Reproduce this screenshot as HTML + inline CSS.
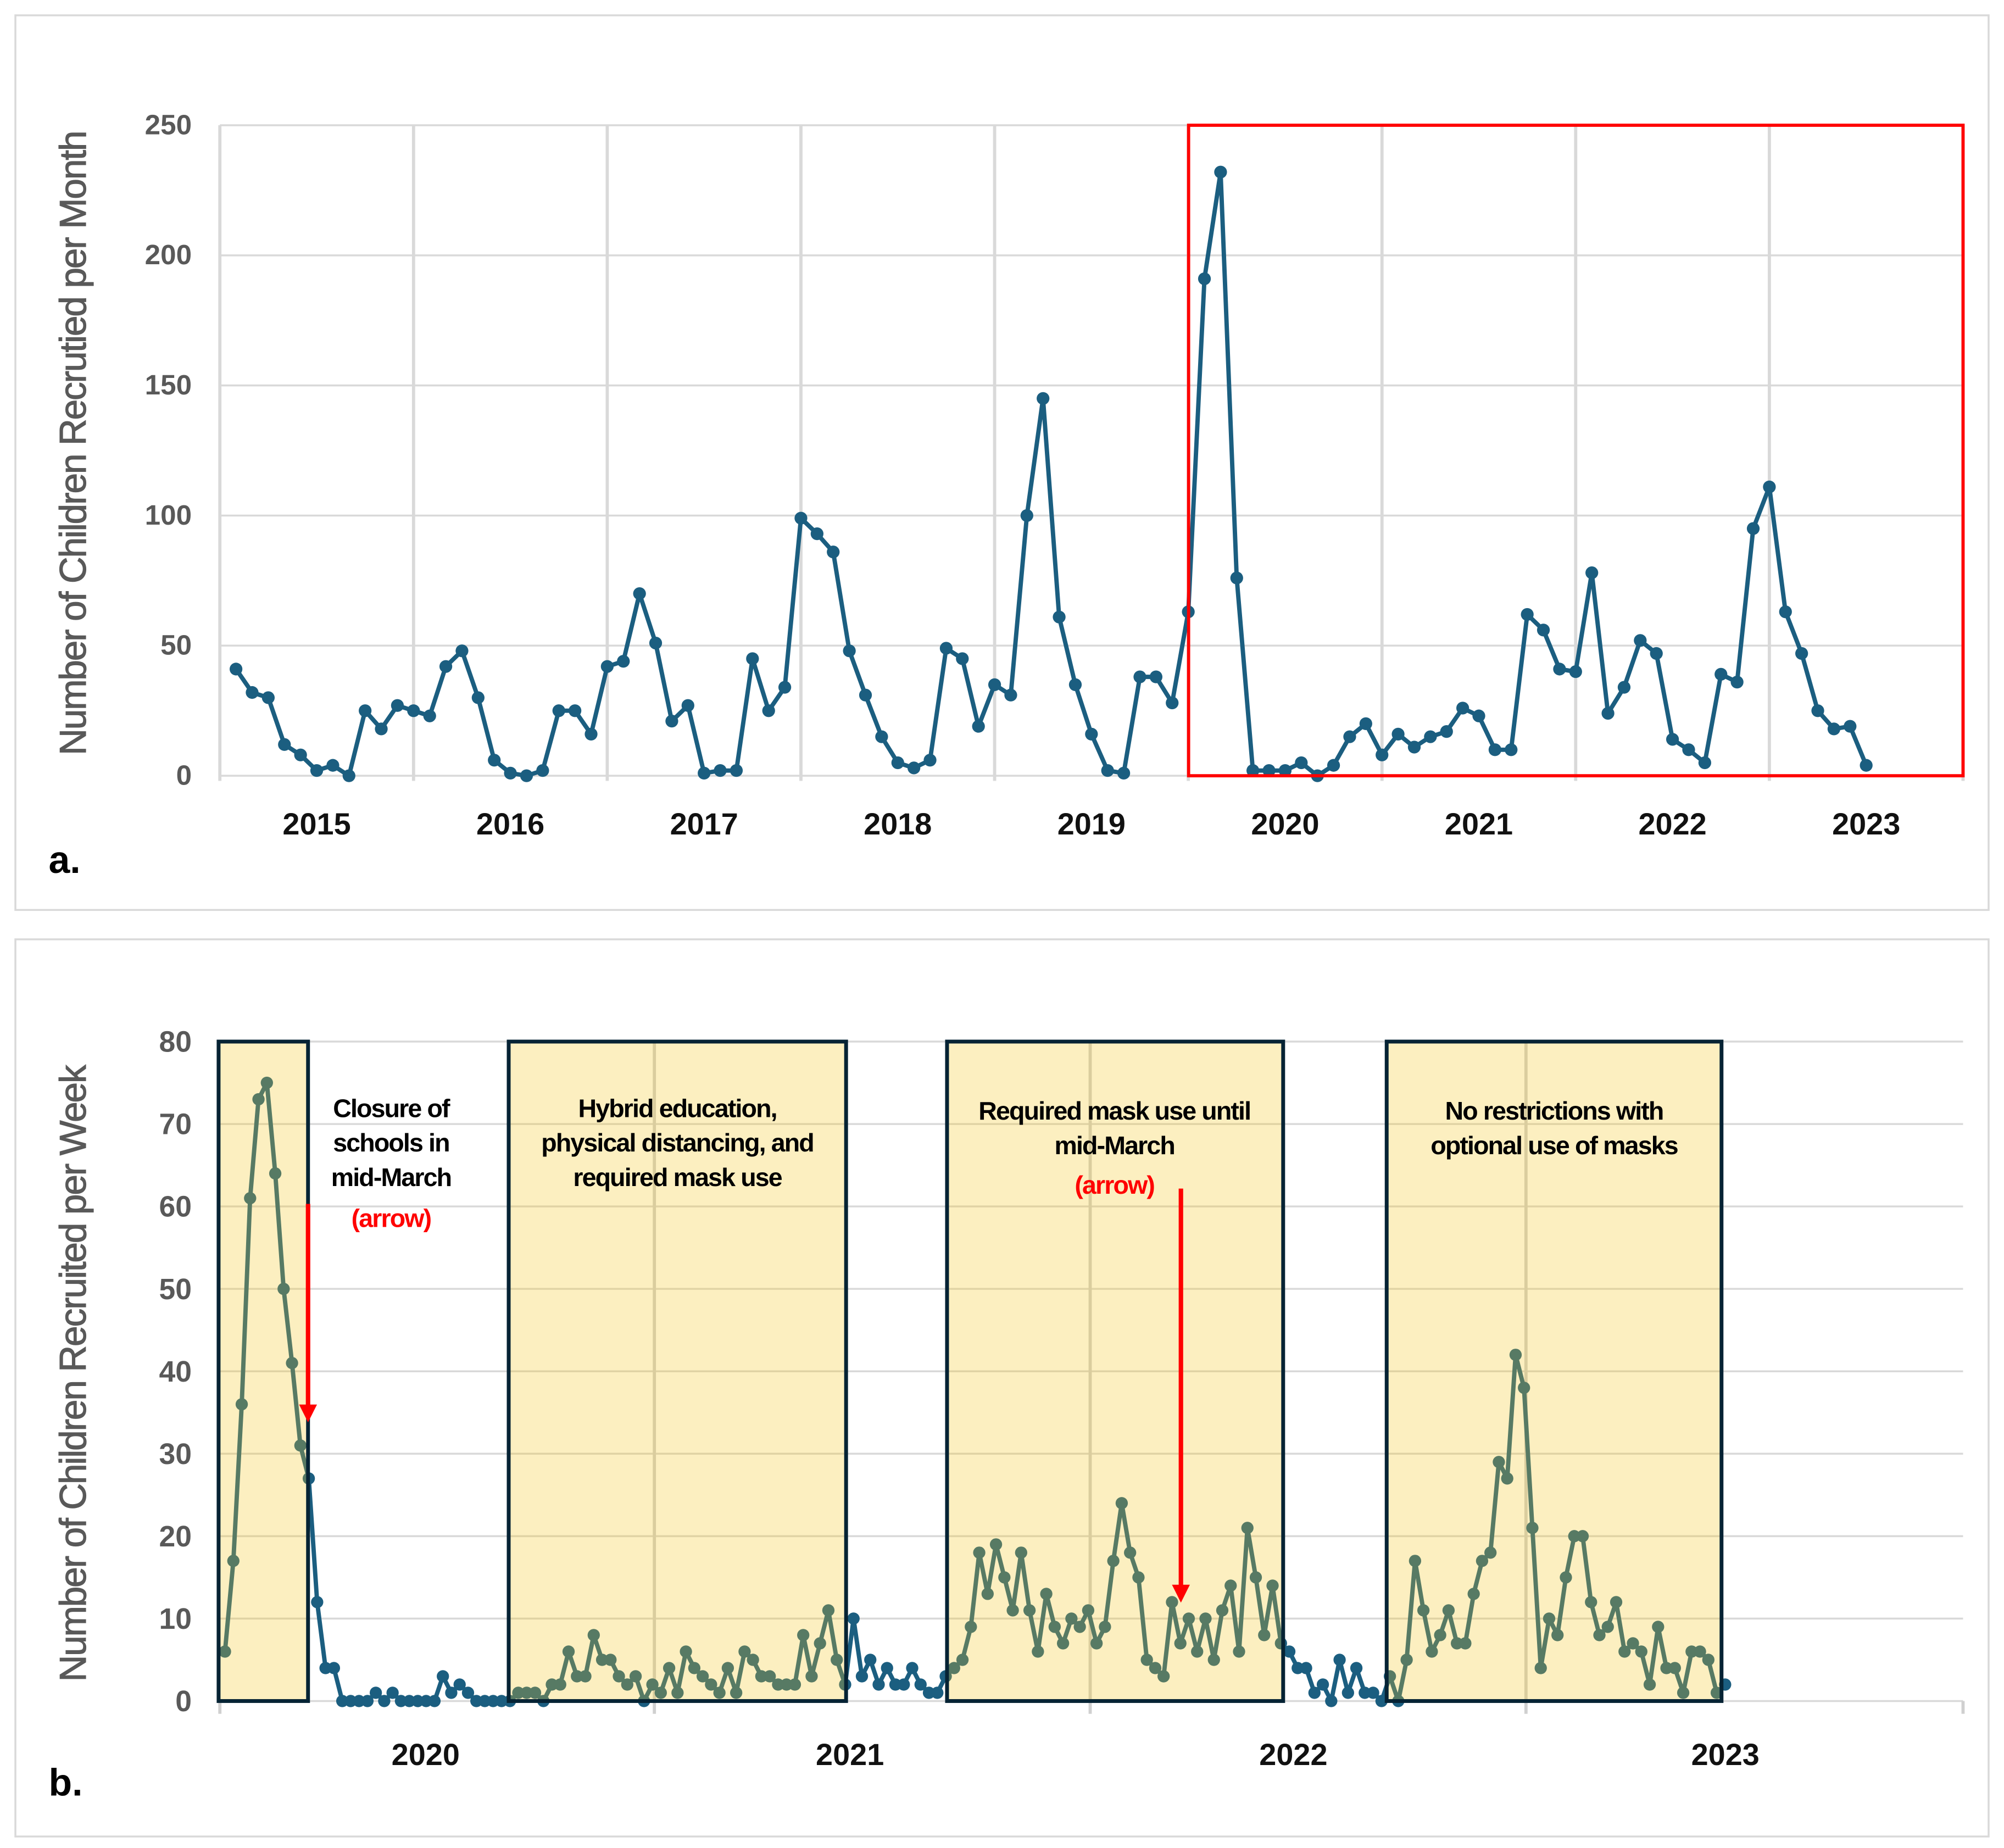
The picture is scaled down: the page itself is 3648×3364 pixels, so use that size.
<!DOCTYPE html>
<html><head><meta charset="utf-8"><style>
html,body{margin:0;padding:0;background:#fff;}
svg{display:block;}
text{font-family:"Liberation Sans",Arial,sans-serif;}
</style></head><body>
<svg id="fig" width="3648" height="3364" viewBox="0 0 1568 1446" xmlns="http://www.w3.org/2000/svg">
<rect x="12" y="12" width="1544" height="700" fill="#fff" stroke="#d9d9d9" stroke-width="1.5"/>
<rect x="12" y="735" width="1544" height="702" fill="#fff" stroke="#d9d9d9" stroke-width="1.5"/>
<g id="ga"></g>
<g id="gb"></g>
<text x="38" y="683" font-size="30" font-weight="bold" fill="#000">a.</text>
<text x="38" y="1405" font-size="30" font-weight="bold" fill="#000">b.</text>
</svg>
<script>
const monthlyValues = [41,32,30,12,8,2,4,0,25,18,27,25,23,42,48,30,6,1,0,2,25,25,16,42,44,70,51,21,27,1,2,2,45,25,34,99,93,86,48,31,15,5,3,6,49,45,19,35,31,100,145,61,35,16,2,1,38,38,28,63,191,232,76,2,2,2,5,0,4,15,20,8,16,11,15,17,26,23,10,10,62,56,41,40,78,24,34,52,47,14,10,5,39,36,95,111,63,47,25,18,19,4];
const monthlyYears = ["2015","2016","2017","2018","2019","2020","2021","2022","2023"];
const monthlyTicks = [0,50,100,150,200,250];
const weeklyValues = [6,17,36,61,73,75,64,50,41,31,27,12,4,4,0,0,0,0,1,0,1,0,0,0,0,0,3,1,2,1,0,0,0,0,0,1,1,1,0,2,2,6,3,3,8,5,5,3,2,3,0,2,1,4,1,6,4,3,2,1,4,1,6,5,3,3,2,2,2,8,3,7,11,5,2,10,3,5,2,4,2,2,4,2,1,1,3,4,5,9,18,13,19,15,11,18,11,6,13,9,7,10,9,11,7,9,17,24,18,15,5,4,3,12,7,10,6,10,5,11,14,6,21,15,8,14,7,6,4,4,1,2,0,5,1,4,1,1,0,3,0,5,17,11,6,8,11,7,7,13,17,18,29,27,42,38,21,4,10,8,15,20,20,12,8,9,12,6,7,6,2,9,4,4,1,6,6,5,1,2];
const weeklyYears = ["2020","2021","2022","2023"];
const weeklyTicks = [0,10,20,30,40,50,60,70,80];

const NS="http://www.w3.org/2000/svg";
function mk(tag,attrs,parent,txt){const e=document.createElementNS(NS,tag);for(const k in attrs)e.setAttribute(k,attrs[k]);if(txt!==undefined)e.textContent=txt;parent.appendChild(e);return e;}
const LINE="#1b5e80";

// ---------- Panel a ----------
const ga=document.getElementById('ga');
const aX0=172,aX1=1536,aY0=607,aY1=98,yearW=(aX1-aX0)/9;
const ax=i=>aX0+i*yearW/12;
const ay=v=>aY0-v*(aY0-aY1)/250;
monthlyTicks.forEach(t=>{
  const l=mk('line',{x1:aX0,x2:aX1,y1:ay(t),y2:ay(t),stroke:'#d9d9d9','stroke-width':1.5},ga);
  
  
  const tx=mk('text',{x:150,y:ay(t)+7,'text-anchor':'end','font-size':22,'font-weight':'bold',fill:'#595959'},ga,String(t));
  
  
});
for(let k=0;k<=9;k++){
  const l=mk('line',{x1:aX0+k*yearW,x2:aX0+k*yearW,y1:aY1,y2:aY0+4,stroke:'#d9d9d9','stroke-width':2.5},ga);
  
  
}
monthlyYears.forEach((y,k)=>{
  const tx=mk('text',{x:aX0+(k+0.5)*yearW,y:653,'text-anchor':'middle','font-size':24,'font-weight':'bold',fill:'#111'},ga,y);
  
  
});
const yta=mk('text',{x:0,y:0,transform:'translate(67,347) rotate(-90)','text-anchor':'middle','font-size':29,fill:'#595959',stroke:'#595959','stroke-width':0.5,'letter-spacing':'-0.9'},ga,'Number of Children Recrutied per Month');


const pa=monthlyValues.map((v,i)=>ax(i+1).toFixed(2)+','+ay(v).toFixed(2)).join(' ');
const pla=mk('polyline',{points:pa,fill:'none',stroke:LINE,'stroke-width':3.4,'stroke-linejoin':'round'},ga);


monthlyValues.forEach((v,i)=>{
  const c=mk('circle',{cx:ax(i+1),cy:ay(v),r:5,fill:LINE},ga);
  
  
});
const rb=mk('rect',{x:930,y:98,width:606,height:509,fill:'none',stroke:'#ff0000','stroke-width':2.5},ga);



// ---------- Panel b ----------
const gb=document.getElementById('gb');
const bX0=172,bX1=1536,bY0=1331,bY1=815,wk=341/52;
const bx=i=>176+i*wk;
const by=v=>bY0-v*(bY0-bY1)/80;
weeklyTicks.forEach(t=>{
  const l=mk('line',{x1:bX0,x2:bX1,y1:by(t),y2:by(t),stroke:'#d9d9d9','stroke-width':1.5},gb);
  
  
  const tx=mk('text',{x:150,y:by(t)+8,'text-anchor':'end','font-size':23,'font-weight':'bold',fill:'#595959'},gb,String(t));
  
  
});
[172,512,853,1194,1536].forEach(x=>{
  const l=mk('line',{x1:x,x2:x,y1:(x==172||x==1536)?bY0:bY1,y2:bY0+10,stroke:'#d0d0d0','stroke-width':2.5},gb);
  
  
});
const labX=[333,665,1012,1350];
weeklyYears.forEach((y,k)=>{
  const tx=mk('text',{x:labX[k],y:1381,'text-anchor':'middle','font-size':24,'font-weight':'bold',fill:'#111'},gb,y);
  
  
});
const ytb=mk('text',{x:0,y:0,transform:'translate(67,1075) rotate(-90)','text-anchor':'middle','font-size':29,fill:'#595959',stroke:'#595959','stroke-width':0.5,'letter-spacing':'-0.9'},gb,'Number of Children Recruited per Week');


const pb=weeklyValues.map((v,i)=>bx(i).toFixed(2)+','+by(v).toFixed(2)).join(' ');
const plb=mk('polyline',{points:pb,fill:'none',stroke:LINE,'stroke-width':3.4,'stroke-linejoin':'round'},gb);


weeklyValues.forEach((v,i)=>{
  const c=mk('circle',{cx:bx(i),cy:by(v),r:4.8,fill:LINE},gb);
  
  
});
const boxes=[[171,241,'phase-box-closure'],[398,662,'phase-box-hybrid'],[741,1004,'phase-box-mask-required'],[1085,1347,'phase-box-no-restrictions']];
boxes.forEach(b=>{
  const r=mk('rect',{x:b[0],y:815,width:b[1]-b[0],height:516,fill:'rgba(244,198,30,0.28)',stroke:'#062334','stroke-width':3},gb);
  
  
});
function label(lines,x,y0,name,color,size){
  const t=mk('text',{x:x,y:y0,'text-anchor':'middle','font-size':size||20,'font-weight':'bold',fill:color||'#000','letter-spacing':'-0.8'},gb);
  
  
  lines.forEach((s,i)=>mk('tspan',{x:x,dy:i?27:0},t,s));
}
label(['Closure of','schools in','mid-March'],306,874,'closure-annotation');
label(['(arrow)'],306,960,'closure-arrow-note','#ff0000');
label(['Hybrid education,','physical distancing, and','required mask use'],530,874,'hybrid-annotation');
label(['Required mask use until','mid-March'],872,876,'mask-annotation');
label(['(arrow)'],872,934,'mask-arrow-note','#ff0000');
label(['No restrictions with','optional use of masks'],1216,876,'no-restrictions-annotation');
function arrow(x,y1,y2,name){
  const g=mk('g',{},gb);
  
  
  mk('line',{x1:x,x2:x,y1:y1,y2:y2-12,stroke:'#ff0000','stroke-width':3.5},g);
  mk('polygon',{points:(x-7)+','+(y2-14)+' '+(x+7)+','+(y2-14)+' '+x+','+y2,fill:'#ff0000'},g);
}
arrow(241,942,1113,'closure-arrow');
arrow(924,930,1254,'mask-arrow');
</script>
</body></html>
